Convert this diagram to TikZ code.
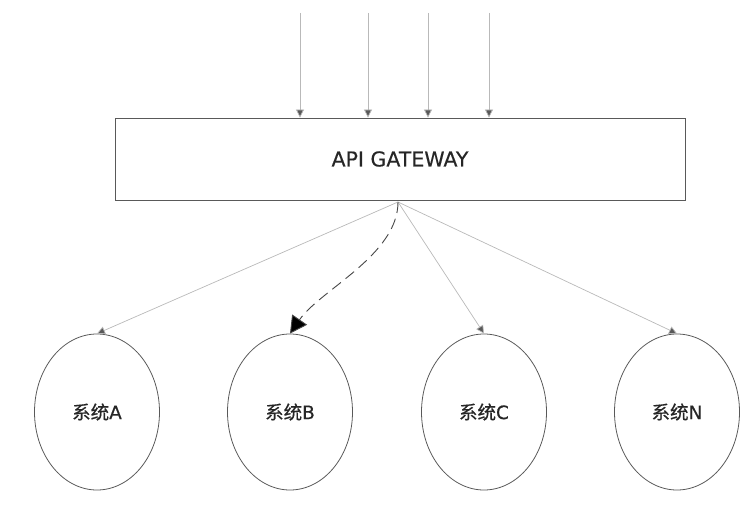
\documentclass[tikz,border=0pt]{standalone}
\usepackage{fontspec}
\setmainfont[FakeBold=0.4]{DejaVu Sans}
\newfontfamily\cjk[FakeBold=0.6]{Noto Sans CJK SC}
\usetikzlibrary{arrows.meta,positioning,calc,shapes.geometric}

\begin{document}
\begin{tikzpicture}[x=1pt, y=-1pt, >=Stealth,
  sysnode/.style={draw=gray!70!black, line width=0.8pt, ellipse, minimum width=125pt, minimum height=156pt, font=\fontsize{18.5}{22}\selectfont, text=black!85, inner sep=0pt},
  gateline/.style={draw=gray!55, line width=0.7pt, -{Triangle[length=8pt, width=8pt, fill=gray!70!black]}}]
  \useasboundingbox (0,0) rectangle (752,508);

  % Gateway box
  \node[draw=gray!70!black, line width=0.8pt, minimum width=570pt, minimum height=82pt, inner sep=0pt, font=\fontsize{20.5}{24}\selectfont, text=black!85] (gw) at (400,159) {API GATEWAY};

  % Incoming requests
  \foreach \x [count=\i] in {300,368,428,489} {
    \coordinate (in\i) at (\x,13);
    \draw[gateline] (in\i) -- (in\i |- gw.north);
  }

  % Systems
  \node[sysnode] (sysA) at (97,412) {{\cjk 系统}A};
  \node[sysnode] (sysB) at (290,412) {{\cjk 系统}B};
  \node[sysnode] (sysC) at (484,412) {{\cjk 系统}C};
  \node[sysnode] (sysN) at (677,412) {{\cjk 系统}N};

  % Routing
  \coordinate (hub) at (398,202);
  \draw[gateline] (hub) -- (sysA.north);
  \draw[gateline] (hub) -- (sysC.north);
  \draw[gateline] (hub) -- (sysN.north);
  \draw[draw=gray!55!black, line width=0.9pt, dash pattern=on 11pt off 6pt,
    -{Triangle[length=17pt, width=18pt, fill=black]}]
    (hub) .. controls (398,255) and (320,290) .. (sysB.north);
\end{tikzpicture}
\end{document}
